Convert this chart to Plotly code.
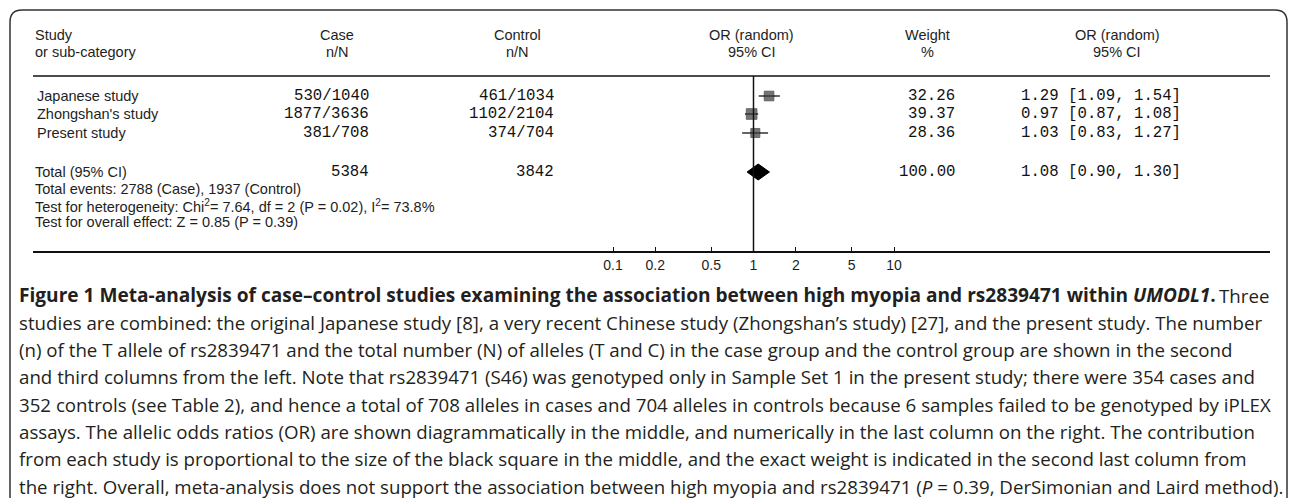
import math
import plotly.graph_objects as go

W, H = 1292, 498

# ---------------- data ----------------
studies = ["Japanese study", "Zhongshan's study", "Present study"]
case_nN = ["530/1040", "1877/3636", "381/708"]
control_nN = ["461/1034", "1102/2104", "374/704"]
weights = [32.26, 39.37, 28.36]
or_est = [1.29, 0.97, 1.03]
or_lo = [1.09, 0.87, 0.83]
or_hi = [1.54, 1.08, 1.27]

total_case_N = "5384"
total_control_N = "3842"
total_weight = 100.00
total_or = 1.08
total_lo = 0.90
total_hi = 1.30

footnotes = [
    "Total events: 2788 (Case), 1937 (Control)",
    "Test for heterogeneity: Chi<sup>2</sup>= 7.64, df = 2 (P = 0.02), I<sup>2</sup>= 73.8%",
    "Test for overall effect: Z = 0.85 (P = 0.39)",
]

tick_vals = [0.1, 0.2, 0.5, 1, 2, 5, 10]
tick_text = ["0.1", "0.2", "0.5", "1", "2", "5", "10"]

caption_title = ("<b>Figure 1 Meta-analysis of case–control studies examining the association "
                 "between high myopia and rs2839471 within <i>UMODL1</i>.</b>")
caption_title_tail = "Three"
caption_lines = [
    "studies are combined: the original Japanese study [8], a very recent Chinese study (Zhongshan’s study) [27], and the present study. The number",
    "(n) of the T allele of rs2839471 and the total number (N) of alleles (T and C) in the case group and the control group are shown in the second",
    "and third columns from the left. Note that rs2839471 (S46) was genotyped only in Sample Set 1 in the present study; there were 354 cases and",
    "352 controls (see Table 2), and hence a total of 708 alleles in cases and 704 alleles in controls because 6 samples failed to be genotyped by iPLEX",
    "assays. The allelic odds ratios (OR) are shown diagrammatically in the middle, and numerically in the last column on the right. The contribution",
    "from each study is proportional to the size of the black square in the middle, and the exact weight is indicated in the second last column from",
    "the right. Overall, meta-analysis does not support the association between high myopia and rs2839471 (<i>P</i> = 0.39, DerSimonian and Laird method).",
]

# ---------------- layout constants (pixels) ----------------
TABLE_L, TABLE_R = 33, 1270
HEAD1_Y, HEAD2_Y = 35, 52
HEAD_LINE_Y = 76
ROW_Y = [96, 114, 133]
TOTAL_Y = 172
FOOT_Y0, FOOT_DY = 189, 16.5
AXIS_Y = 251
PX_01, PX_10 = 613, 894  # pixel positions of OR 0.1 and 10
CAP_X, CAP_R, CAP_Y0, CAP_DY = 17, 1271, 295, 27.3

px_per_dec = (PX_10 - PX_01) / 2.0
lg_left = -1 - (PX_01 - TABLE_L) / px_per_dec
lg_right = 1 + (TABLE_R - PX_10) / px_per_dec


def X(px):
    return px / W


def Y(py):
    return 1 - py / H


SANS = "Liberation Sans, Arial, sans-serif"
MONO = "Liberation Mono, Courier New, monospace"
TXT = "#1e1e1e"
sans_font = dict(family=SANS, size=14.5, color=TXT)
mono_font = dict(family=MONO, size=15.7, color="#111111")

fig = go.Figure()

# CI lines + weighted squares
fig.add_trace(go.Scatter(
    x=or_est, y=ROW_Y, mode="markers",
    marker=dict(symbol="square", color="#3a3a3a",
                size=[1.7 * math.sqrt(w) for w in weights],
                line=dict(width=0.8, color="#111111")),
    error_x=dict(type="data", symmetric=False,
                 array=[h - e for h, e in zip(or_hi, or_est)],
                 arrayminus=[e - l for e, l in zip(or_est, or_lo)],
                 color="#111111", thickness=1.3, width=0),
    hoverinfo="skip", showlegend=False,
))

# pooled diamond
DH = 8
fig.add_trace(go.Scatter(
    x=[total_lo, total_or, total_hi, total_or, total_lo],
    y=[TOTAL_Y, TOTAL_Y - DH, TOTAL_Y, TOTAL_Y + DH, TOTAL_Y],
    mode="lines", fill="toself", fillcolor="#000000",
    line=dict(color="#000000", width=1), hoverinfo="skip", showlegend=False,
))

# line of no effect
fig.add_trace(go.Scatter(
    x=[1, 1], y=[HEAD_LINE_Y, AXIS_Y], mode="lines",
    line=dict(color="#111111", width=1.5), hoverinfo="skip", showlegend=False,
))

ann = []


def t(px, py, text, anchor="left", font=sans_font):
    ann.append(dict(x=X(px), y=Y(py), xref="paper", yref="paper", text=text,
                    showarrow=False, xanchor=anchor, yanchor="middle", font=font))


# headers
t(TABLE_L, HEAD1_Y, "Study")
t(TABLE_L, HEAD2_Y, "or sub-category")
for cx, a, b in [(337, "Case", "n/N"), (517, "Control", "n/N"),
                 (752, "OR (random)", "95% CI"), (927, "Weight", "%"),
                 (1117, "OR (random)", "95% CI")]:
    t(cx, HEAD1_Y, a, "center")
    t(cx, HEAD2_Y, b, "center")

# rows
for i, y in enumerate(ROW_Y):
    t(35, y, studies[i])
    t(371, y, case_nN[i], "right", mono_font)
    t(556, y, control_nN[i], "right", mono_font)
    t(957, y, f"{weights[i]:.2f}", "right", mono_font)
    t(1019, y, f"{or_est[i]:.2f} [{or_lo[i]:.2f}, {or_hi[i]:.2f}]", "left", mono_font)

# total row
t(TABLE_L, TOTAL_Y, "Total (95% CI)")
t(371, TOTAL_Y, total_case_N, "right", mono_font)
t(556, TOTAL_Y, total_control_N, "right", mono_font)
t(957, TOTAL_Y, f"{total_weight:.2f}", "right", mono_font)
t(1019, TOTAL_Y, f"{total_or:.2f} [{total_lo:.2f}, {total_hi:.2f}]", "left", mono_font)

for i, line in enumerate(footnotes):
    t(TABLE_L, FOOT_Y0 + i * FOOT_DY, line)

# caption
cap_font = dict(family="Open Sans, sans-serif", size=18.7, color="#231f20")
cap_bold_font = dict(family="Open Sans, sans-serif", size=19.1, color="#231f20")
t(CAP_X, CAP_Y0, caption_title, "left", cap_bold_font)
t(CAP_R, CAP_Y0, caption_title_tail, "right", cap_font)
for i, line in enumerate(caption_lines):
    t(CAP_X, CAP_Y0 + (i + 1) * CAP_DY, line, "left", cap_font)

shapes = [
    # header rule
    dict(type="line", xref="paper", yref="paper", x0=X(TABLE_L), x1=X(TABLE_R),
         y0=Y(HEAD_LINE_Y), y1=Y(HEAD_LINE_Y), line=dict(color="#111111", width=1.5)),
    # rounded frame
    dict(type="path", xref="paper", yref="paper",
         path=(f"M {X(10)},{Y(500)} L {X(10)},{Y(22)} Q {X(10)},{Y(10)} {X(22)},{Y(10)} "
               f"L {X(1275)},{Y(10)} Q {X(1287)},{Y(10)} {X(1287)},{Y(22)} L {X(1287)},{Y(500)}"),
         line=dict(color="#333333", width=1.5)),
]

fig.update_layout(
    width=W, height=H,
    margin=dict(l=0, r=0, t=0, b=0),
    paper_bgcolor="white", plot_bgcolor="white",
    xaxis=dict(type="log", range=[lg_left, lg_right],
               domain=[X(TABLE_L), X(TABLE_R)],
               tickvals=tick_vals, ticktext=tick_text,
               ticks="inside", ticklen=4, tickwidth=1.2, tickcolor="#111111",
               showline=True, linecolor="#111111", linewidth=1.5,
               showgrid=False, zeroline=False,
               tickfont=dict(family=SANS, size=14, color=TXT)),
    yaxis=dict(range=[AXIS_Y, 0], domain=[Y(AXIS_Y), 1], visible=False,
               showgrid=False, zeroline=False),
    annotations=ann,
    shapes=shapes,
    showlegend=False,
)

fig.write_html(
    "out.html",
    config={"displayModeBar": False},
    post_script="document.body.style.margin='0';document.body.style.padding='0';"
                "document.body.style.overflow='hidden';",
)
